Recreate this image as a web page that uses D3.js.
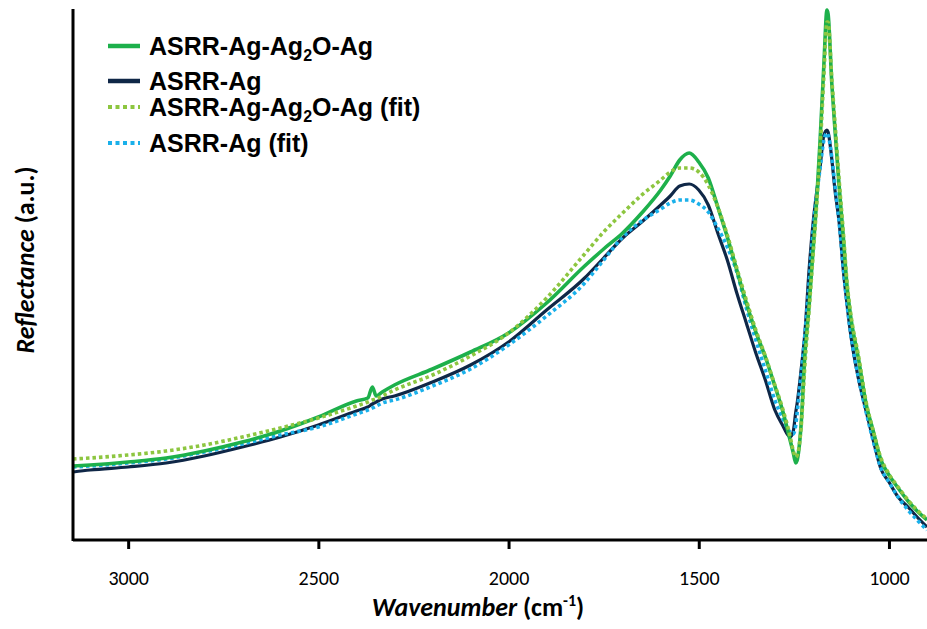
<!DOCTYPE html>
<html>
<head>
<meta charset="utf-8">
<script src="https://cdn.jsdelivr.net/npm/d3@7"></script>
<style>
  html, body { margin: 0; padding: 0; background: #fff; }
  svg { display: block; }
</style>
</head>
<body>
<svg id="chart" width="927" height="629"></svg>
<script>
// Wavenumber grid (cm^-1)
const wavenumbers = [3145,3100,3000,2900,2800,2700,2600,2500,2400,2370,2358,2348,2332,2300,2200,2100,2000,1900,1800,1750,1700,1650,1600,1575,1550,1525,1500,1475,1450,1425,1400,1375,1350,1325,1300,1280,1260,1252,1245,1242,1231,1221,1210,1200,1190,1181,1171,1163,1160,1150,1142,1131,1120,1110,1100,1080,1060,1042,1021,1000,976,950,926,900];

// Reflectance (a.u.)
const agAg2oAg = [74,75,78,82,89,98,109,123,139,142,153,144,148,155,171,188,207,237,274,291,307,327,350,364,380,387,378,362,333,303,270,237,208,183,154,130,100,88,77,79,115,185,234,287,340,400,476,530,526,455,411,354,303,253,222,181,136,110,80,65,52,39,29,20];
const ag = [68,70,73,77,84,93,103,115,129,133,136,138,141,144,158,175,198,230,262,282,302,318,335,344,354,356,350,335,307,280,247,217,187,160,130,115,103,108,128,135,170,207,270,315,348,373,405,410,408,380,350,318,270,235,204,161,129,101,71,58,43,33,23,13];
const agAg2oAgFit = [81,82,85,89,95,103,112,122,134,138,140,141,144,150,165,184,207,242,286,308,327,345,360,368,372,372,368,355,333,305,272,240,210,184,155,132,104,90,83,84,112,175,230,282,335,390,465,518,518,460,418,360,308,257,225,184,138,110,82,66,53,40,30,21];
const agFit = [73,74,77,81,88,96,105,113,126,130,132,134,137,140,154,171,195,224,257,280,303,319,331,337,340,340,336,328,312,293,268,232,200,170,140,122,108,106,115,125,165,205,257,308,345,372,400,407,405,382,355,318,272,235,205,162,128,100,72,58,43,30,20,10];

const xTicks = [3000, 2500, 2000, 1500, 1000];

const series = [
  { name: ["ASRR-Ag-Ag", "2", "O-Ag"], values: agAg2oAg, color: "#1db04b", width: 3.6, dash: null },
  { name: ["ASRR-Ag"], values: ag, color: "#0f2747", width: 3.2, dash: null },
  { name: ["ASRR-Ag-Ag", "2", "O-Ag (fit)"], values: agAg2oAgFit, color: "#8dc640", width: 3.6, dash: "3.5,3" },
  { name: ["ASRR-Ag (fit)"], values: agFit, color: "#1ab0ea", width: 3.6, dash: "3.5,3" }
];

const svg = d3.select("#chart");
const x = d3.scaleLinear().domain([3145, 900]).range([73, 927]);
const y = d3.scaleLinear().domain([0, 531]).range([540, 9]);

const order = [1, 3, 0, 2];
const line = d3.line().curve(d3.curveMonotoneX)
  .x(d => x(d[0])).y(d => y(d[1]));
order.forEach(i => {
  const s = series[i];
  const pts = wavenumbers.map((w, k) => [w, s.values[k]]);
  svg.append("path")
    .attr("d", line(pts))
    .attr("fill", "none")
    .attr("stroke", s.color)
    .attr("stroke-width", s.width)
    .attr("stroke-linejoin", "round")
    .attr("stroke-dasharray", s.dash);
});

// axes
const xAxis = d3.axisBottom(x).tickValues(xTicks).tickSize(9).tickFormat(d3.format("d"));
const gx = svg.append("g").attr("transform", "translate(0,540)").call(xAxis);
gx.select(".domain").attr("d", "M73,0H927").attr("stroke", "#000").attr("stroke-width", 3);
gx.selectAll(".tick line").attr("stroke", "#000").attr("stroke-width", 3);
gx.selectAll(".tick text")
  .attr("dy", "0")
  .attr("y", 45)
  .style("font-family", "Carlito, Calibri, Lato, 'Open Sans', sans-serif")
  .style("font-size", "20px")
  .attr("fill", "#000");

const yAxis = d3.axisLeft(y).tickValues([]).tickSize(0);
const gy = svg.append("g").attr("transform", "translate(73,0)").call(yAxis);
gy.select(".domain").attr("d", "M0,9V541").attr("stroke", "#000").attr("stroke-width", 3);

// axis titles
const titleFont = "Carlito, Calibri, Lato, 'Open Sans', sans-serif";
const xt = svg.append("text")
  .attr("x", 478).attr("y", 616)
  .attr("text-anchor", "middle")
  .style("font-family", titleFont).style("font-size", "26px").style("font-weight", "bold");
xt.append("tspan").style("font-style", "italic").text("Wavenumber");
xt.append("tspan").text(" (cm");
xt.append("tspan").attr("dy", -10).style("font-size", "16px").text("-1");
xt.append("tspan").attr("dy", 10).text(")");

const yt = svg.append("text")
  .attr("transform", "translate(34,260) rotate(-90)")
  .attr("text-anchor", "middle")
  .style("font-family", titleFont).style("font-size", "26px").style("font-weight", "bold");
yt.append("tspan").style("font-style", "italic").text("Reflectance");
yt.append("tspan").text(" (a.u.)");

// legend
const legendY = [46, 81, 107, 143];
const lg = svg.append("g");
series.forEach((s, i) => {
  const yy = legendY[i];
  lg.append("line")
    .attr("x1", 108).attr("x2", 140).attr("y1", yy).attr("y2", yy)
    .attr("stroke", s.color).attr("stroke-width", s.dash ? 4 : 4.5)
    .attr("stroke-dasharray", s.dash ? "4,3.5" : null);
  const t = lg.append("text")
    .attr("x", 149).attr("y", yy + 9)
    .style("font-family", "'Liberation Sans', Arial, sans-serif")
    .style("font-size", "25px").style("font-weight", "bold").attr("fill", "#000");
  t.append("tspan").text(s.name[0]);
  if (s.name.length > 1) {
    t.append("tspan").attr("dy", 6).style("font-size", "16px").text(s.name[1]);
    t.append("tspan").attr("dy", -6).text(s.name[2]);
  }
});
</script>
</body>
</html>
